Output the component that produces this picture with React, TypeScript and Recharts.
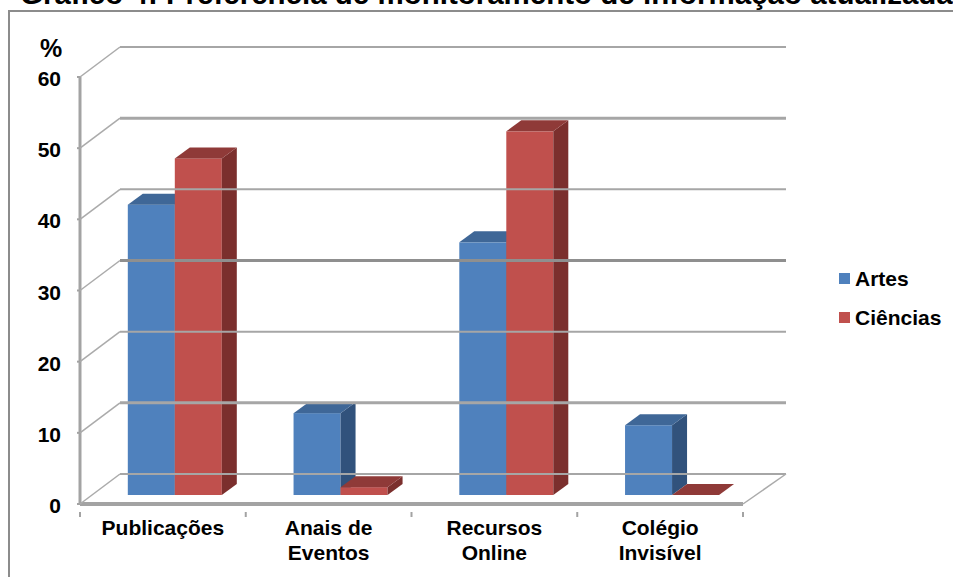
import { BarChart, Bar, XAxis, YAxis, Legend } from 'recharts';

const categories = ['Publicações', 'Anais de Eventos', 'Recursos Online', 'Colégio Invisível'];
const artes = [40.8, 11.5, 35.5, 9.8];
const ciencias = [47.3, 1.1, 51.1, 0];
const yTicks = [0, 10, 20, 30, 40, 50, 60];
const title = 'Gráfico 4: Preferência de monitoramento de informação atualizada';

const data = categories.map((name, i) => ({ name, artes: artes[i], ciencias: ciencias[i] }));

const FONT = '"Liberation Sans", Arial, sans-serif';
const AXIS_X = 80;
const AXIS_RIGHT = 743;
const WALL_DX = 40;
const WALL_DY = 30;
const STEP = (AXIS_RIGHT - AXIS_X) / categories.length;
const AXIS_COLOR = '#a3a3a3';

const YTick = ({ y, payload, index }: any) => {
  const thick = index % 2 === 1;
  const gridColor = payload.value === 30 ? '#8f8f8f' : '#a6a6a6';
  return (
    <g>
      <text x={61} y={y + 9} textAnchor='end' fontSize={21} fontWeight='bold' fontFamily={FONT} fill='#000'>
        {payload.value}
      </text>
      <line x1={AXIS_X - 3} y1={y} x2={AXIS_X} y2={y} stroke={AXIS_COLOR} strokeWidth={2} />
      <line x1={AXIS_X} y1={y} x2={AXIS_X + WALL_DX} y2={y - WALL_DY} stroke='#ababab' strokeWidth={1.5} />
      <line
        x1={AXIS_X + WALL_DX}
        y1={y - WALL_DY}
        x2={AXIS_RIGHT + WALL_DX + 3}
        y2={y - WALL_DY}
        stroke={gridColor}
        strokeWidth={thick ? 3 : 2}
      />
      {payload.value === 0 && (
        <line x1={AXIS_RIGHT} y1={y} x2={AXIS_RIGHT + WALL_DX + 3} y2={y - WALL_DY} stroke='#ababab' strokeWidth={1.5} />
      )}
    </g>
  );
};

const XTick = ({ x, y, payload, index }: any) => {
  const words = payload.value.split(' ');
  const lines = words.length > 1 ? [words.slice(0, -1).join(' '), words[words.length - 1]] : words;
  return (
    <g>
      <line x1={x - STEP / 2} y1={y} x2={x - STEP / 2} y2={y + 5} stroke={AXIS_COLOR} strokeWidth={2} />
      {index === categories.length - 1 && (
        <line x1={x + STEP / 2} y1={y} x2={x + STEP / 2} y2={y + 5} stroke={AXIS_COLOR} strokeWidth={2} />
      )}
      <text textAnchor='middle' fontSize={21} fontWeight='bold' fontFamily={FONT} fill='#000'>
        {lines.map((line: string, i: number) => (
          <tspan key={line} x={x} y={535 + i * 25}>
            {line}
          </tspan>
        ))}
      </text>
    </g>
  );
};

// fake 3d box, the bar stays where the scale puts it and gets pushed onto the floor
const Bar3D = ({ x, y, width, height, front, top, side }: any) => {
  const left = x + 12;
  const right = left + width;
  const upper = y - 9;
  const lower = upper + height;
  const dx = 15;
  const dy = 11;
  return (
    <g>
      {height > 0 && <rect x={left} y={upper} width={width} height={height} fill={front} />}
      <polygon
        points={`${right},${upper} ${right + dx},${upper - dy} ${right + dx},${lower - dy} ${right},${lower}`}
        fill={side}
      />
      <polygon
        points={`${left},${upper} ${left + dx},${upper - dy} ${right + dx},${upper - dy} ${right},${upper}`}
        fill={top}
      />
    </g>
  );
};

const LegendBox = ({ payload }: any) => (
  <div>
    {payload.map((item: any) => (
      <div key={item.value} style={{ display: 'flex', alignItems: 'center', height: 39, fontFamily: FONT }}>
        <span style={{ width: 11, height: 11, background: item.color, marginRight: 5 }} />
        <span style={{ fontSize: 21, fontWeight: 'bold', color: '#000' }}>{item.value}</span>
      </div>
    ))}
  </div>
);

export default function App() {
  return (
    <div style={{ position: 'absolute', left: 0, top: 0, width: 953, height: 577, overflow: 'hidden', background: '#fff' }}>
      <div
        style={{
          position: 'absolute',
          left: 20,
          top: -21,
          whiteSpace: 'nowrap',
          fontFamily: FONT,
          fontSize: 29.5,
          lineHeight: '30px',
          fontWeight: 'bold',
          color: '#000'
        }}
      >
        {title}
      </div>
      <div
        style={{
          position: 'absolute',
          left: 8,
          top: 10,
          width: 960,
          height: 580,
          borderLeft: '2px solid #8c8c8c',
          borderTop: '2px solid #8c8c8c'
        }}
      />
      <div style={{ position: 'absolute', left: 0, top: 0 }}>
        <BarChart
          width={953}
          height={577}
          data={data}
          margin={{ top: 77, right: 100, bottom: 0, left: 0 }}
          barCategoryGap='21.6%'
          barGap={0}
        >
          <YAxis
            width={80}
            domain={[0, 60]}
            ticks={yTicks}
            interval={0}
            axisLine={{ stroke: AXIS_COLOR, strokeWidth: 3 }}
            tickLine={false}
            tick={YTick}
            label={{
              value: '%',
              position: 'insideTopLeft',
              dx: 35,
              dy: -43,
              fontSize: 25,
              fontWeight: 'bold',
              fontFamily: FONT,
              fill: '#000'
            }}
          />
          <XAxis
            dataKey='name'
            height={73}
            interval={0}
            axisLine={{ stroke: AXIS_COLOR, strokeWidth: 4 }}
            tickLine={false}
            tick={XTick}
          />
          <Legend
            layout='vertical'
            align='right'
            verticalAlign='middle'
            width={110}
            content={LegendBox}
            wrapperStyle={{ left: 839, top: 259 }}
          />
          <Bar
            dataKey='artes'
            name='Artes'
            fill='#4f81bd'
            isAnimationActive={false}
            shape={(props: any) => <Bar3D {...props} front='#4f81bd' top='#3f6797' side='#31527c' />}
          />
          <Bar
            dataKey='ciencias'
            name='Ciências'
            fill='#c0504d'
            isAnimationActive={false}
            shape={(props: any) => <Bar3D {...props} front='#c0504d' top='#8f3a38' side='#7b2f2d' />}
          />
        </BarChart>
      </div>
    </div>
  );
}
